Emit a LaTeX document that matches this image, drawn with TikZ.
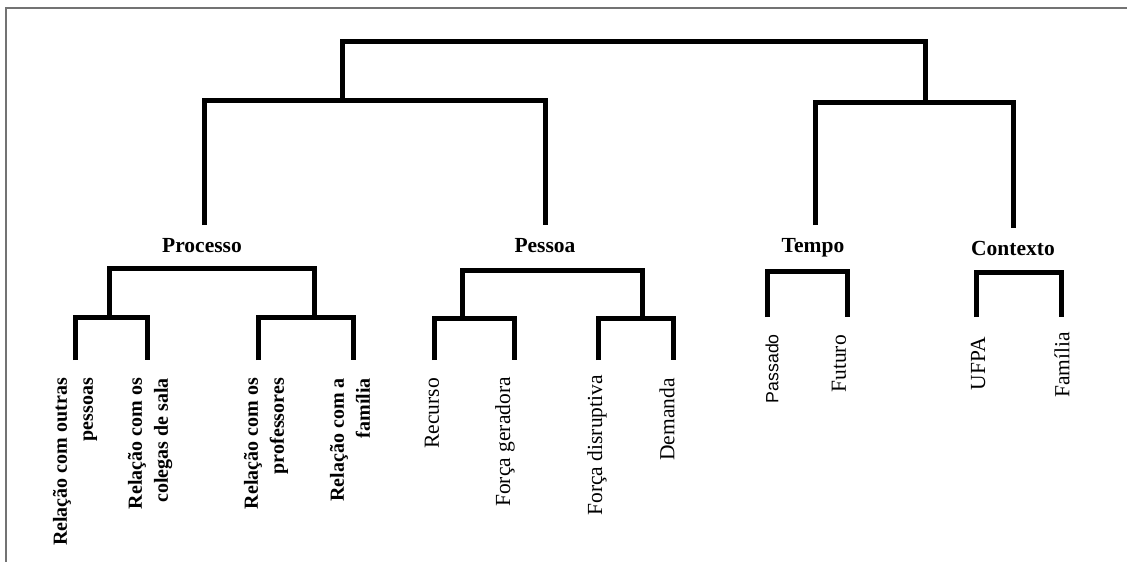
\documentclass[tikz,border=0pt]{standalone}
\usepackage{fontspec}
\setmainfont{Liberation Serif}
\newfontfamily\arialf{Liberation Sans}
\begin{document}
\begin{tikzpicture}[x=1pt,y=-1pt,
  br/.style={line width=5pt, line cap=butt, line join=miter},
  cat/.style={font=\fontsize{21.5}{24}\selectfont\bfseries, inner sep=0pt},
  leaf/.style={font=\fontsize{21.5}{26}\selectfont, rotate=90, anchor=east, align=right, inner sep=0pt},
  leafb/.style={leaf, font=\fontsize{20}{26}\selectfont\bfseries},
  leafs/.style={leaf, font=\fontsize{17.7}{22}\selectfont\arialf}]
\useasboundingbox (0,0) rectangle (1127,562);
\draw[black!55, line width=1.3pt] (6,562) -- (6,8) -- (1127,8);

% category labels
\node[cat] (proc) at (202,246) {Processo};
\node[cat] (pess) at (545,246) {Pessoa};
\node[cat] (temp) at (813,248) {Tempo};
\node[cat] (cont) at (1013,248) {Contexto};

% stems above categories
\coordinate (procT) at (204,225);
\coordinate (pessT) at (545,225);
\coordinate (tempT) at (815,225);
\coordinate (contT) at (1013,228);
\coordinate (leftJ) at (342,100);
\coordinate (rightJ) at (925,102);

\draw[br] (leftJ) -- (342,41) -- (925,41) -- (rightJ);
\draw[br] (procT) -- (204,100) -- (545,100) -- (pessT);
\draw[br] (tempT) -- (815,102) -- (1013,102) -- (contT);

% Processo subtree
\coordinate (pA) at (109,317);
\coordinate (pB) at (314,317);
\draw[br] (pA) -- (109,268) -- (314,268) -- (pB);
\coordinate (l1) at (75,360);
\coordinate (l2) at (147,360);
\coordinate (l3) at (258,360);
\coordinate (l4) at (353,360);
\draw[br] (l1) -- (75,317) -- (147,317) -- (l2);
\draw[br] (l3) -- (258,317) -- (353,317) -- (l4);

% Pessoa subtree
\coordinate (qA) at (462,318);
\coordinate (qB) at (642,318);
\draw[br] (qA) -- (462,270) -- (642,270) -- (qB);
\coordinate (l5) at (434,360);
\coordinate (l6) at (514,360);
\coordinate (l7) at (598,360);
\coordinate (l8) at (673,360);
\draw[br] (l5) -- (434,318) -- (514,318) -- (l6);
\draw[br] (l7) -- (598,318) -- (673,318) -- (l8);

% Tempo subtree
\coordinate (l9) at (767,317);
\coordinate (l10) at (847,317);
\draw[br] (l9) -- (767,271) -- (847,271) -- (l10);

% Contexto subtree
\coordinate (l11) at (976,317);
\coordinate (l12) at (1061,317);
\draw[br] (l11) -- (976,272) -- (1061,272) -- (l12);

% leaf labels
\node[leafb] (t1) at (75,378) {Relação com outras\\pessoas};
\node[leafb] (t2) at (150,378) {Relação com os\\colegas de sala};
\node[leafb] (t3) at (266,378) {Relação com os\\professores};
\node[leafb] (t4) at (350,378) {Relação com a\\família};
\node[leaf] (t5) at (432,378) {Recurso};
\node[leaf] (t6) at (505,377) {Força geradora};
\node[leaf] (t7) at (597,375) {Força disruptiva};
\node[leaf] (t8) at (667,378) {Demanda};
\node[leafs] (t9) at (772,334) {Passado};
\node[leaf] (t10) at (839,335) {Futuro};
\node[leaf] (t11) at (978,337) {UFPA};
\node[leaf] (t12) at (1062,332) {Família};
\end{tikzpicture}
\end{document}
